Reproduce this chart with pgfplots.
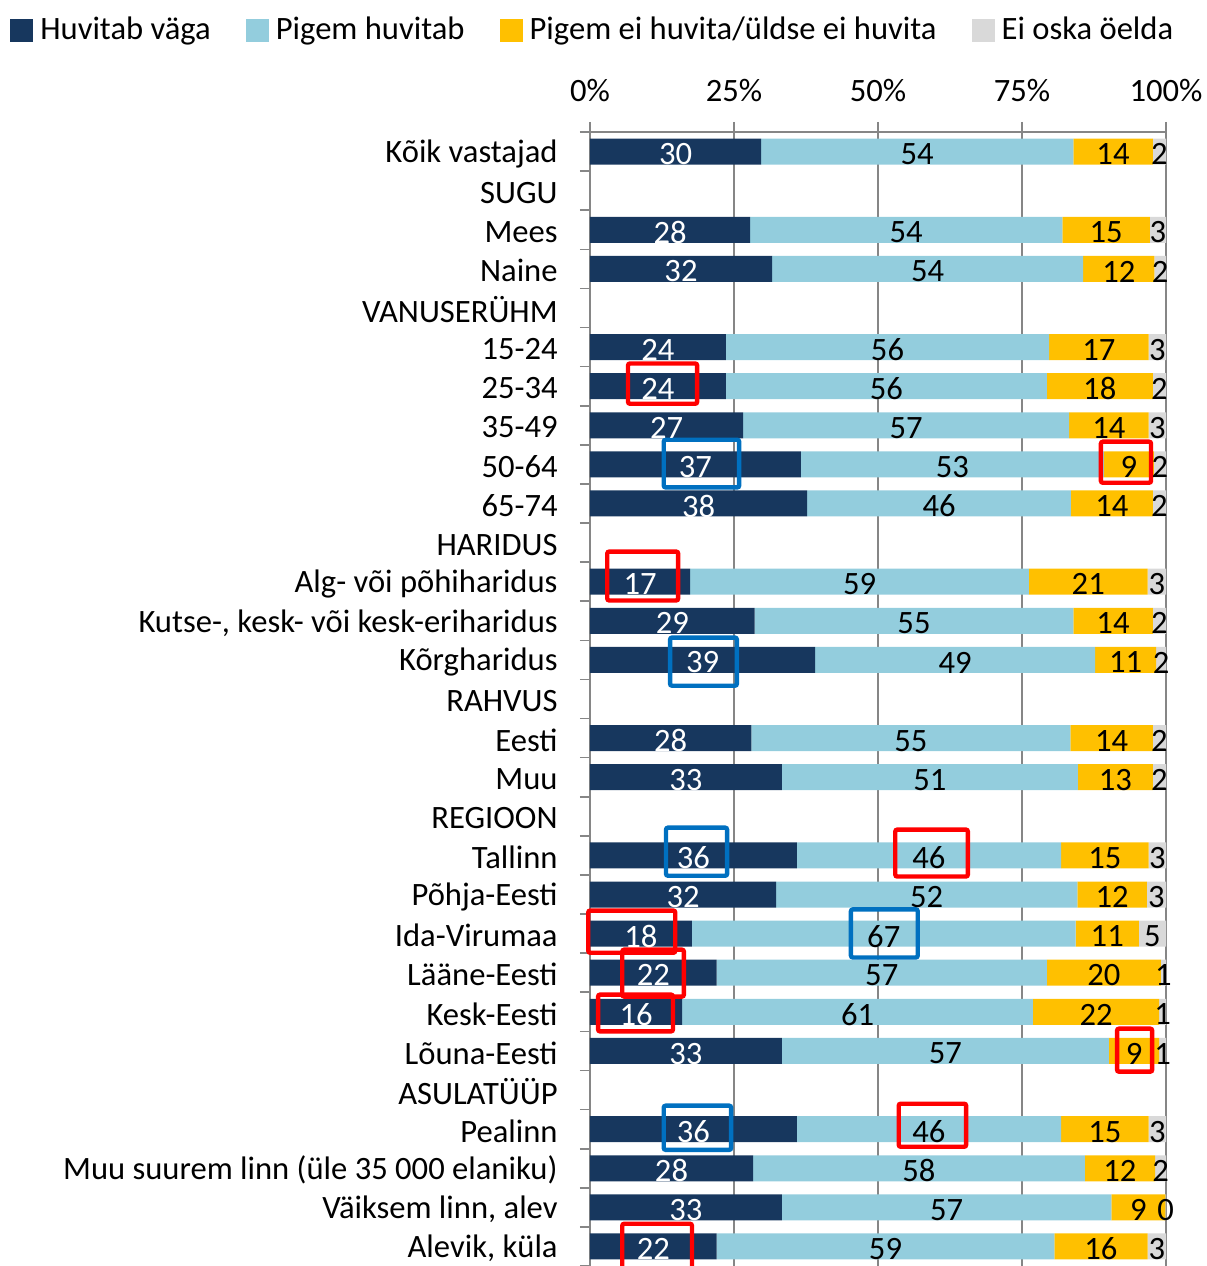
\documentclass[border=0pt]{standalone}
\usepackage{pgfplots}
\pgfplotsset{compat=1.18}
\usepackage{pgfplotstable}
\usepackage{fontspec}
\setmainfont{Carlito}
\definecolor{cdark}{RGB}{23,55,94}
\definecolor{clight}{RGB}{147,205,221}
\definecolor{cgold}{RGB}{255,192,0}
\definecolor{cgray}{RGB}{217,217,217}
\definecolor{gridc}{RGB}{134,134,134}
\definecolor{hred}{RGB}{255,0,0}
\definecolor{hblue}{RGB}{0,112,192}
\newcommand\lab{\fontsize{16.3}{19.5}\selectfont}
\pgfplotstableread{
row d    l    g    n
0   29.7 54.2 13.8 2.3
2   27.8 54.2 15.2 2.8
3   31.6 54.0 12.4 2.0
5   23.6 56.1 17.3 3.0
6   23.6 55.7 18.4 2.3
7   26.6 56.6 13.8 3.0
8   36.6 52.6 8.7  2.1
9   37.7 45.8 14.2 2.3
11  17.4 58.8 20.6 3.2
12  28.6 55.3 13.8 2.3
13  39.1 48.6 10.6 1.7
15  28.0 55.4 14.3 2.3
16  33.3 51.4 13.0 2.3
18  35.9 45.9 15.2 3.0
19  32.3 52.3 12.1 3.3
20  17.7 66.6 11.0 4.7
21  22.0 57.3 19.8 0.9
22  16.0 60.9 21.9 1.2
23  33.3 56.8 8.7  1.2
25  35.9 45.9 15.2 3.0
26  28.3 57.6 12.2 1.9
27  33.3 57.2 9.4  0.1
28  22.0 58.6 16.2 3.2
}\data
\pgfplotsset{/pgf/number format/assume math mode=true}
\begin{document}
\lab
\begin{tikzpicture}
\begin{axis}[
  scale only axis, width=288pt, height=567pt,
  xbar stacked, bar width=13pt,
  xmin=0, xmax=100, ymin=-0.5, ymax=28.5, y dir=reverse,
  axis x line*=top, axis y line*=left,
  axis line style={draw=gridc, line width=0.8pt, -},
  xtick={0,25,50,75,100}, xticklabels={0\%,25\%,50\%,75\%,100\%},
  minor xtick={0,25,50,75,100},
  xmajorgrids, grid style={draw=gridc, line width=0.8pt},
  ytick={0,...,28},
  yticklabels={Kõik vastajad, SUGU, Mees, Naine, VANUSERÜHM, 15-24, 25-34, 35-49, 50-64, 65-74, HARIDUS, Alg- või põhiharidus, {Kutse-, kesk- või kesk-eriharidus}, Kõrgharidus, RAHVUS, Eesti, Muu, REGIOON, Tallinn, Põhja-Eesti, Ida-Virumaa, Lääne-Eesti, Kesk-Eesti, Lõuna-Eesti, ASULATÜÜP, Pealinn, Muu suurem linn (üle 35 000 elaniku), {Väiksem linn, alev}, {Alevik, küla}},
  minor ytick={-0.5,0.5,...,28.5},
  tick align=outside, major tick length=0pt, minor tick length=5pt,
  tick style={draw=gridc, line width=0.8pt},
  tick label style={font=\lab},
  yticklabel style={anchor=east, inner sep=0pt, xshift=-16pt, yshift=-1pt},
  xticklabel style={anchor=base, inner sep=0pt, yshift=15pt},
  legend columns=4,
  legend entries={Huvitab väga, Pigem huvitab, Pigem ei huvita/üldse ei huvita, Ei oska öelda},
  legend image code/.code={\fill[#1,draw=none] (0pt,-5.75pt) rectangle (11.5pt,5.75pt);},
  legend style={draw=none, fill=none, font=\lab, at={(-1.007,1.0895)}, anchor=west,
    inner sep=0pt, column sep=3.5pt, nodes={inner sep=0pt},
    /tikz/every even column/.append style={column sep=17.5pt}},
]
\addplot[fill=cdark, draw=none] table[x=d, y=row] {\data};
\addplot[fill=clight, draw=none] table[x=l, y=row] {\data};
\addplot[fill=cgold, draw=none] table[x=g, y=row] {\data};
\addplot[fill=cgray, draw=none] table[x=n, y=row] {\data};
\end{axis}
\begin{axis}[
  scale only axis, width=288pt, height=567pt,
  xmin=0, xmax=100, ymin=-0.5, ymax=28.5, y dir=reverse,
  hide axis, clip=false,
  nodes near coords={\pgfmathprintnumber[fixed,precision=0]{\pgfplotspointmeta}},
  nodes near coords style={anchor=center, font=\lab, inner sep=0pt, yshift=-1.3pt},
]
\addplot[draw=none, mark=none, point meta=\thisrow{d}, nodes near coords style={text=white}]
  table[x expr=\thisrow{d}/2, y=row] {\data};
\addplot[draw=none, mark=none, point meta=\thisrow{l}, nodes near coords style={text=black}]
  table[x expr=\thisrow{d}+\thisrow{l}/2, y=row] {\data};
\addplot[draw=none, mark=none, point meta=\thisrow{g}, nodes near coords style={text=black}]
  table[x expr=\thisrow{d}+\thisrow{l}+\thisrow{g}/2, y=row] {\data};
\addplot[draw=none, mark=none, point meta=\thisrow{n}, nodes near coords style={text=black}]
  table[x expr=\thisrow{d}+\thisrow{l}+\thisrow{g}+\thisrow{n}/2, y=row] {\data};
\begin{scope}[line width=2.2pt, rounded corners=1pt]
\draw[hred] (axis cs:6.6,5.42) rectangle (axis cs:18.6,6.45);
\draw[hred] (axis cs:88.7,7.42) rectangle (axis cs:97.4,8.47);
\draw[hred] (axis cs:3.0,10.23) rectangle (axis cs:15.3,11.48);
\draw[hred] (axis cs:53.0,17.34) rectangle (axis cs:65.6,18.54);
\draw[hred] (axis cs:-0.3,19.41) rectangle (axis cs:14.8,20.49);
\draw[hred] (axis cs:5.6,20.41) rectangle (axis cs:16.3,21.61);
\draw[hred] (axis cs:1.4,21.56) rectangle (axis cs:14.4,22.5);
\draw[hred] (axis cs:91.5,22.43) rectangle (axis cs:97.6,23.53);
\draw[hred] (axis cs:53.6,24.35) rectangle (axis cs:65.3,25.45);
\draw[hred] (axis cs:5.6,28.9) -- (axis cs:5.6,27.42) -- (axis cs:17.7,27.42) -- (axis cs:17.7,28.9);
\draw[hblue] (axis cs:12.8,7.37) rectangle (axis cs:25.9,8.59);
\draw[hblue] (axis cs:13.9,12.43) rectangle (axis cs:25.5,13.66);
\draw[hblue] (axis cs:13.2,17.29) rectangle (axis cs:23.8,18.52);
\draw[hblue] (axis cs:45.3,19.38) rectangle (axis cs:56.9,20.61);
\draw[hblue] (axis cs:12.8,24.4) rectangle (axis cs:24.5,25.53);
\end{scope}
\coordinate (TL) at (axis cs:0,-0.5);
\coordinate (BR) at (axis cs:100,28.5);
\end{axis}
\pgfresetboundingbox
\path ([shift={(-295pt,66pt)}]TL) rectangle ([shift={(20.5pt,0pt)}]BR);
\end{tikzpicture}
\end{document}
